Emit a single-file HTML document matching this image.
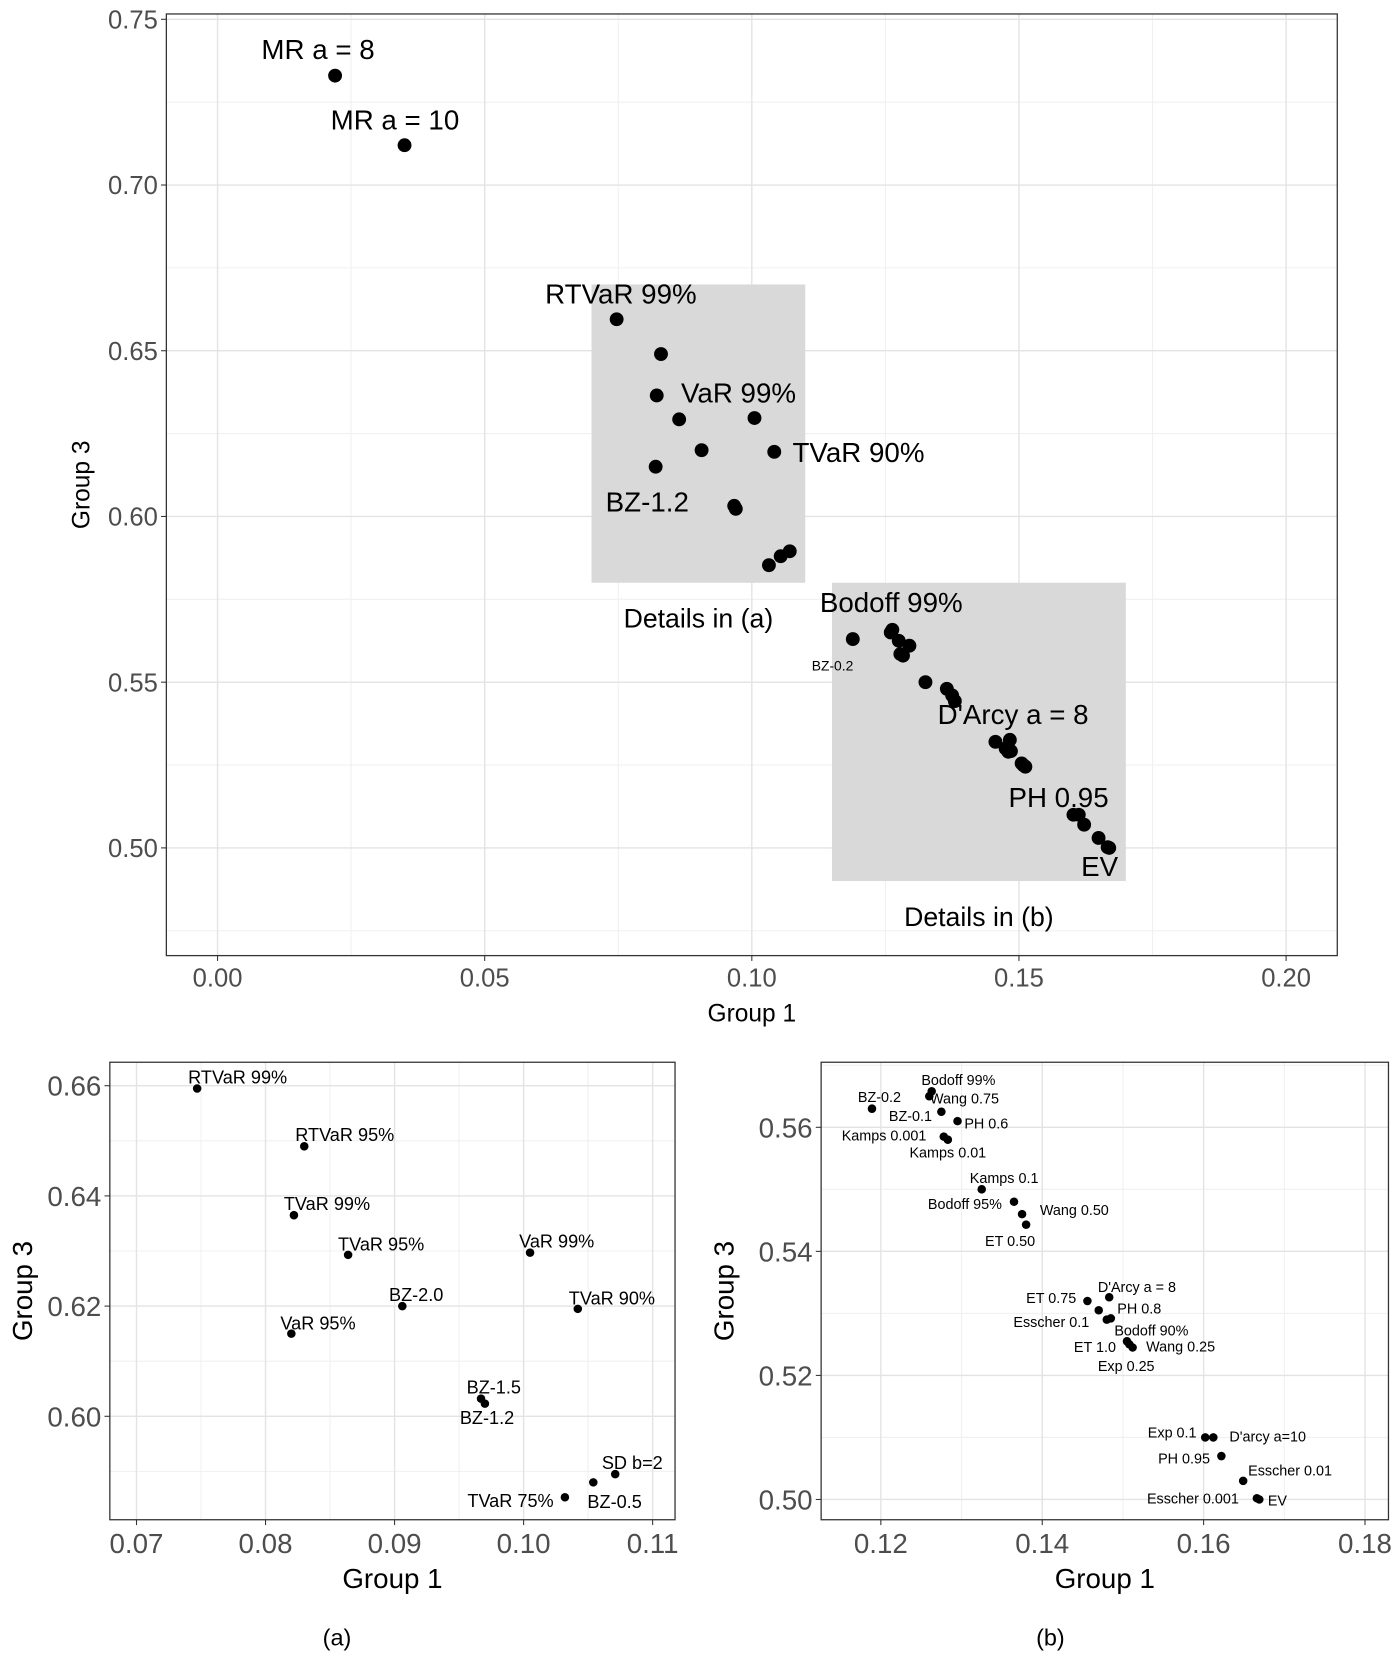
<!DOCTYPE html>
<html><head><meta charset="utf-8"><style>
html,body{margin:0;padding:0;background:#fff;}
svg{display:block;}
text{font-family:"Liberation Sans",sans-serif;}
</style></head>
<body>
<svg id="chart" xmlns="http://www.w3.org/2000/svg" width="1397" height="1667" viewBox="0 0 1310 1563"></svg>
<script>
// ---- Main plot data ----
const mainNames = ["MR a = 8","MR a = 10","RTVaR 99%","RTVaR 95%","TVaR 99%","TVaR 95%","VaR 99%","BZ-2.0","TVaR 90%","VaR 95%","BZ-1.5","BZ-1.2","SD b=2","BZ-0.5","TVaR 75%",
 "BZ-0.2","Bodoff 99%","Wang 0.75","BZ-0.1","PH 0.6","Kamps 0.001","Kamps 0.01","Kamps 0.1","Bodoff 95%","Wang 0.50","ET 0.50","ET 0.75","D'Arcy a = 8","PH 0.8","Esscher 0.1","Bodoff 90%","ET 1.0","Wang 0.25","Exp 0.25","Exp 0.1","D'arcy a=10","PH 0.95","Esscher 0.01","Esscher 0.001","EV"];
const mainX = [0.022,0.035,0.0747,0.083,0.0822,0.0864,0.1005,0.0906,0.1042,0.082,0.0967,0.0970,0.1071,0.1054,0.1032,
 0.1189,0.1263,0.1260,0.1275,0.1295,0.1278,0.1283,0.1325,0.1365,0.1375,0.1380,0.1456,0.1483,0.1475,0.1480,0.1485,0.1505,0.1512,0.1508,0.1602,0.1612,0.1622,0.1649,0.1666,0.1669];
const mainY = [0.733,0.712,0.6595,0.649,0.6365,0.6293,0.6297,0.620,0.6195,0.615,0.6032,0.6023,0.5895,0.588,0.5853,
 0.563,0.5658,0.5650,0.5625,0.561,0.5585,0.558,0.550,0.548,0.546,0.5443,0.532,0.5326,0.530,0.529,0.5292,0.5255,0.5245,0.5250,0.510,0.510,0.507,0.503,0.5002,0.500];
const mainLabels = ["MR a = 8","MR a = 10","RTVaR 99%","VaR 99%","TVaR 90%","BZ-1.2","Bodoff 99%","BZ-0.2","D'Arcy a = 8","PH 0.95","EV"];
const mainLabelDx = [-16,-9,4,-15,79,-83,-1,-19,3,-24,-9];
const mainLabelDy = [-25,-24,-24,-24,0,-7,-26,25,-24,-26,17];
const mainXTicks = [0,0.05,0.10,0.15,0.20];
const mainXTickLabels = ["0.00","0.05","0.10","0.15","0.20"];
const mainYTicks = [0.50,0.55,0.60,0.65,0.70,0.75];
const mainYTickLabels = ["0.50","0.55","0.60","0.65","0.70","0.75"];
const boxA = [0.07,0.11,0.58,0.67];
const boxB = [0.115,0.17,0.49,0.58];

// ---- Subplot (a) data ----
const aNames = ["RTVaR 99%","RTVaR 95%","TVaR 99%","TVaR 95%","VaR 99%","BZ-2.0","TVaR 90%","VaR 95%","BZ-1.5","BZ-1.2","SD b=2","BZ-0.5","TVaR 75%"];
const aX = [0.0747,0.083,0.0822,0.0864,0.1005,0.0906,0.1042,0.082,0.0967,0.0970,0.1071,0.1054,0.1032];
const aY = [0.6595,0.649,0.6365,0.6293,0.6297,0.620,0.6195,0.615,0.6032,0.6023,0.5895,0.588,0.5853];
const aDx = [38,38,31,31,25,13,32,25,12,2,16,20,-51];
const aDy = [-11,-11,-11,-10,-11,-11,-10,-10,-11,13,-11,18,3];
const aXTicks = [0.07,0.08,0.09,0.10,0.11];
const aXTickLabels = ["0.07","0.08","0.09","0.10","0.11"];
const aYTicks = [0.60,0.62,0.64,0.66];
const aYTickLabels = ["0.60","0.62","0.64","0.66"];

// ---- Subplot (b) data ----
const bNames = ["Bodoff 99%","Wang 0.75","BZ-0.2","BZ-0.1","PH 0.6","Kamps 0.001","Kamps 0.01","Kamps 0.1","Bodoff 95%","Wang 0.50","ET 0.50","ET 0.75","D'Arcy a = 8","PH 0.8","Esscher 0.1","Bodoff 90%","ET 1.0","Wang 0.25","Exp 0.25","Exp 0.1","D'arcy a=10","PH 0.95","Esscher 0.01","Esscher 0.001","EV"];
const bX = [0.1263,0.1260,0.1189,0.1275,0.1295,0.1278,0.1283,0.1325,0.1365,0.1375,0.1380,0.1456,0.1483,0.1470,0.1480,0.1485,0.1505,0.1512,0.1508,0.1602,0.1612,0.1622,0.1649,0.1666,0.1669];
const bY = [0.5658,0.5650,0.563,0.5625,0.561,0.5585,0.558,0.550,0.548,0.546,0.5443,0.532,0.5326,0.5305,0.529,0.5292,0.5255,0.5245,0.5250,0.510,0.510,0.507,0.503,0.5002,0.500];
const bDx = [25,33,7,-29,27,-56,0,21,-46,49,-15,-34,26,38,-52,38,-30,45,-3,-31,51,-35,44,-60,17];
const bDy = [-11,2,-11,4,2,-1,12,-11,2,-4,15,-3,-10,-2,2,11,5,-1,20,-5,-1,2,-10,0,1];
const bXTicks = [0.12,0.14,0.16,0.18];
const bXTickLabels = ["0.12","0.14","0.16","0.18"];
const bYTicks = [0.50,0.52,0.54,0.56];
const bYTickLabels = ["0.50","0.52","0.54","0.56"];

const svg = document.getElementById('chart');
const NS = "http://www.w3.org/2000/svg";
function mk(tag, attrs, parent){
  const e = document.createElementNS(NS, tag);
  for (const k in attrs) e.setAttribute(k, attrs[k]);
  (parent||svg).appendChild(e);
  return e;
}
function scale(d0,d1,r0,r1){ return v => r0 + (v-d0)*(r1-r0)/(d1-d0); }

function panel(cfg){
  const g = mk('g', {});
  
  
  const sx = scale(cfg.xd[0], cfg.xd[1], cfg.xr[0], cfg.xr[1]);
  const sy = scale(cfg.yd[0], cfg.yd[1], cfg.yr[0], cfg.yr[1]);
  const xs = cfg.xTicks, ys = cfg.yTicks;
  const xstep = xs[1]-xs[0], ystep = ys[1]-ys[0];
  for (let v = xs[0]-xstep/2; v <= xs[xs.length-1]+xstep; v += xstep){
    const px = sx(v); if (px < cfg.box[0] || px > cfg.box[2]) continue;
    const l = mk('line', {x1:px,x2:px,y1:cfg.box[1],y2:cfg.box[3],stroke:'#f0f0f0','stroke-width':1}, g);
     
  }
  for (let v = ys[0]-ystep/2; v <= ys[ys.length-1]+ystep; v += ystep){
    const py = sy(v); if (py < cfg.box[1] || py > cfg.box[3]) continue;
    const l = mk('line', {x1:cfg.box[0],x2:cfg.box[2],y1:py,y2:py,stroke:'#f0f0f0','stroke-width':1}, g);
     
  }
  xs.forEach((v,i)=>{
    const px = sx(v);
    const l = mk('line', {x1:px,x2:px,y1:cfg.box[1],y2:cfg.box[3],stroke:'#e3e3e3','stroke-width':1.3}, g);
     
    mk('line',{x1:px,x2:px,y1:cfg.box[3],y2:cfg.box[3]+5,stroke:'#333','stroke-width':1},g);
    const t = mk('text',{x:px,y:cfg.box[3]+cfg.tfs+5,'text-anchor':'middle','font-size':cfg.tfs,fill:'#4d4d4d'},g);
    t.textContent = cfg.xTickLabels[i];
     
  });
  ys.forEach((v,i)=>{
    const py = sy(v);
    const l = mk('line', {x1:cfg.box[0],x2:cfg.box[2],y1:py,y2:py,stroke:'#e3e3e3','stroke-width':1.3}, g);
     
    mk('line',{x1:cfg.box[0]-5,x2:cfg.box[0],y1:py,y2:py,stroke:'#333','stroke-width':1},g);
    const t = mk('text',{x:cfg.box[0]-8,y:py+cfg.tfs*0.36,'text-anchor':'end','font-size':cfg.tfs,fill:'#4d4d4d'},g);
    t.textContent = cfg.yTickLabels[i];
     
  });
  (cfg.boxes||[]).forEach((b,i)=>{
    const r = mk('rect',{x:sx(b[0]),y:sy(b[3]),width:sx(b[1])-sx(b[0]),height:sy(b[2])-sy(b[3]),fill:'#d9d9d9'},g);
    
    
  });
  const fr = mk('rect',{x:cfg.box[0],y:cfg.box[1],width:cfg.box[2]-cfg.box[0],height:cfg.box[3]-cfg.box[1],fill:'none',stroke:'#333','stroke-width':1.2},g);
   
  cfg.px.forEach((v,i)=>{
    const c = mk('circle',{cx:sx(v),cy:sy(cfg.py[i]),r:cfg.r,fill:'#000'},g);
    
    
  });
  cfg.labels.forEach((nm,i)=>{
    const k = cfg.names.indexOf(nm);
    const fs = (cfg.smallLabels && cfg.smallLabels.includes(nm)) ? 13 : cfg.lfs;
    const t = mk('text',{x:sx(cfg.px[k])+cfg.ldx[i],y:sy(cfg.py[k])+cfg.ldy[i]+fs*0.36,'text-anchor':'middle','font-size':fs,fill:'#000'},g);
    t.textContent = nm;
     
  });
  const xt = mk('text',{x:(cfg.box[0]+cfg.box[2])/2,y:cfg.box[3]+cfg.tfs+38,'text-anchor':'middle','font-size':cfg.afs,fill:'#000'},g);
  xt.textContent = 'Group 1';
   
  const yx = cfg.ytx, yy = (cfg.box[1]+cfg.box[3])/2;
  const yt = mk('text',{x:yx,y:yy,'text-anchor':'middle','font-size':cfg.afs,fill:'#000',transform:'rotate(-90 '+yx+' '+yy+')'},g);
  yt.textContent = 'Group 3';
   
  return {g,sx,sy};
}

const m = panel({name:'main-scatter', box:[156,13,1254,896], xd:[0,0.20], xr:[204,1206], yd:[0.50,0.75], yr:[795,18],
  xTicks:mainXTicks, xTickLabels:mainXTickLabels, yTicks:mainYTicks, yTickLabels:mainYTickLabels,
  boxes:[boxA,boxB], px:mainX, py:mainY, names:mainNames, labels:mainLabels, ldx:mainLabelDx, ldy:mainLabelDy,
  smallLabels:["BZ-0.2"], r:6.5, lfs:26, tfs:24, afs:23, ytx:84});
[["Details in (a)", (boxA[0]+boxA[1])/2, boxA[2], 'details-a-caption'],["Details in (b)", (boxB[0]+boxB[1])/2, boxB[2], 'details-b-caption']].forEach(d=>{
  const t = mk('text',{x:m.sx(d[1]),y:m.sy(d[2])+42,'text-anchor':'middle','font-size':25,fill:'#000'},m.g);
  t.textContent = d[0];
   
});

panel({name:'subplot-a', box:[103,996,633,1425], xd:[0.07,0.11], xr:[128,612], yd:[0.60,0.66], yr:[1328,1018],
  xTicks:aXTicks, xTickLabels:aXTickLabels, yTicks:aYTicks, yTickLabels:aYTickLabels,
  px:aX, py:aY, names:aNames, labels:aNames, ldx:aDx, ldy:aDy, r:4, lfs:17, tfs:26, afs:26, ytx:30});
panel({name:'subplot-b', box:[770,996,1302,1425], xd:[0.12,0.18], xr:[826,1280], yd:[0.50,0.56], yr:[1406,1057],
  xTicks:bXTicks, xTickLabels:bXTickLabels, yTicks:bYTicks, yTickLabels:bYTickLabels,
  px:bX, py:bY, names:bNames, labels:bNames, ldx:bDx, ldy:bDy, r:4, lfs:13.5, tfs:26, afs:26, ytx:688});

[["(a)",316,'caption-a'],["(b)",985,'caption-b']].forEach(c=>{
  const t = mk('text',{x:c[1],y:1543,'text-anchor':'middle','font-size':22,fill:'#000','font-family':'"Liberation Serif",serif'});
  t.textContent = c[0];
   
});
</script>
</body></html>
